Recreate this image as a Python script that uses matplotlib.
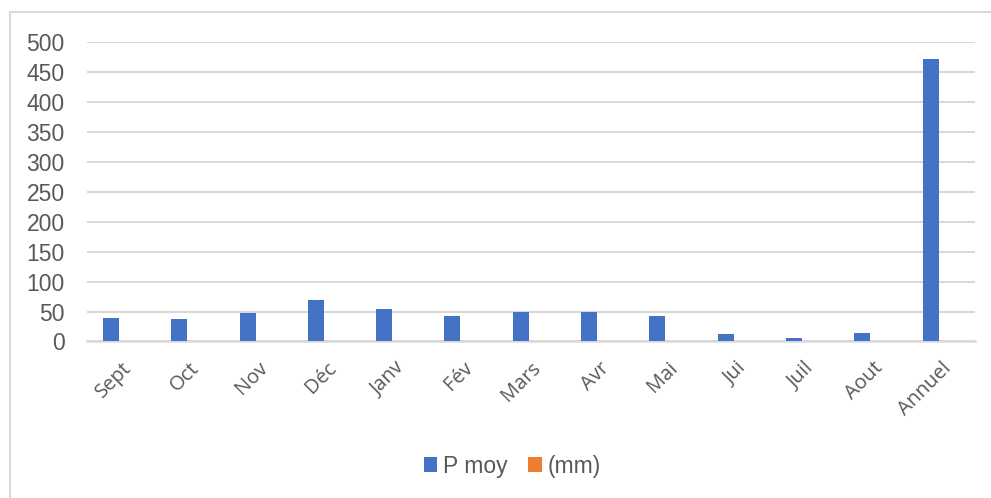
import matplotlib.pyplot as plt
import numpy as np
from matplotlib.patches import Rectangle

mois = ['Sept', 'Oct', 'Nov', 'Déc', 'Janv', 'Fév', 'Mars', 'Avr', 'Mai',
        'Jui', 'Juil', 'Aout', 'Annuel']
p_moy = [40, 38, 47, 70, 55, 42, 48.5, 48.5, 42, 12, 5, 13.5, 472]
mm = [0] * len(mois)
yticks = [0, 50, 100, 150, 200, 250, 300, 350, 400, 450, 500]

gris = '#595959'
bleu = '#4472C4'
orange = '#ED7D31'

fig = plt.figure(figsize=(9.91, 4.98), dpi=100)
ax = fig.add_axes([0.0878, 0.3143, 0.8961, 0.6014])

x = np.arange(len(mois))
w = 0.235
ax.bar(x - 0.15, p_moy, width=w, color=bleu, label='P moy', zorder=3)
ax.bar(x + 0.15, mm, width=w, color=orange, linewidth=0, label='(mm)', zorder=3)

ax.set_xlim(-0.5, len(mois) - 0.5)
ax.set_ylim(0, 500)
ax.set_yticks(yticks)
ax.set_yticklabels([str(v) for v in yticks], fontsize=16.5,
                   family='Liberation Sans', color=gris)
ax.set_xticks(x)
ax.set_xticklabels(mois, rotation=45, ha='right', rotation_mode='anchor',
                   fontsize=14.5, family='Open Sans', color=gris)
ax.tick_params(axis='both', length=0)
ax.tick_params(axis='y', pad=16)
ax.tick_params(axis='x', pad=12)

ax.grid(axis='y', color='#d9d9d9', linewidth=1.5, zorder=0)
for s in ['top', 'right', 'left']:
    ax.spines[s].set_visible(False)
ax.spines['bottom'].set_color('#d9d9d9')
ax.spines['bottom'].set_linewidth(1.8)

leg = fig.legend(loc='center', bbox_to_anchor=(0.517, 0.064), ncol=2,
                 frameon=False, handlelength=0.6, handleheight=0.6,
                 handletextpad=0.25, columnspacing=0.9,
                 prop={'family': 'Liberation Sans', 'size': 16.5})
for t in leg.get_texts():
    t.set_color(gris)

# cadre gris autour du graphique
fig.patches.append(Rectangle((10 / 991, -0.1), 1.2, (498 - 12) / 498 + 0.1,
                             transform=fig.transFigure, fill=False,
                             edgecolor='#d9d9d9', linewidth=1.5))

fig.savefig('out.png', dpi=100)
